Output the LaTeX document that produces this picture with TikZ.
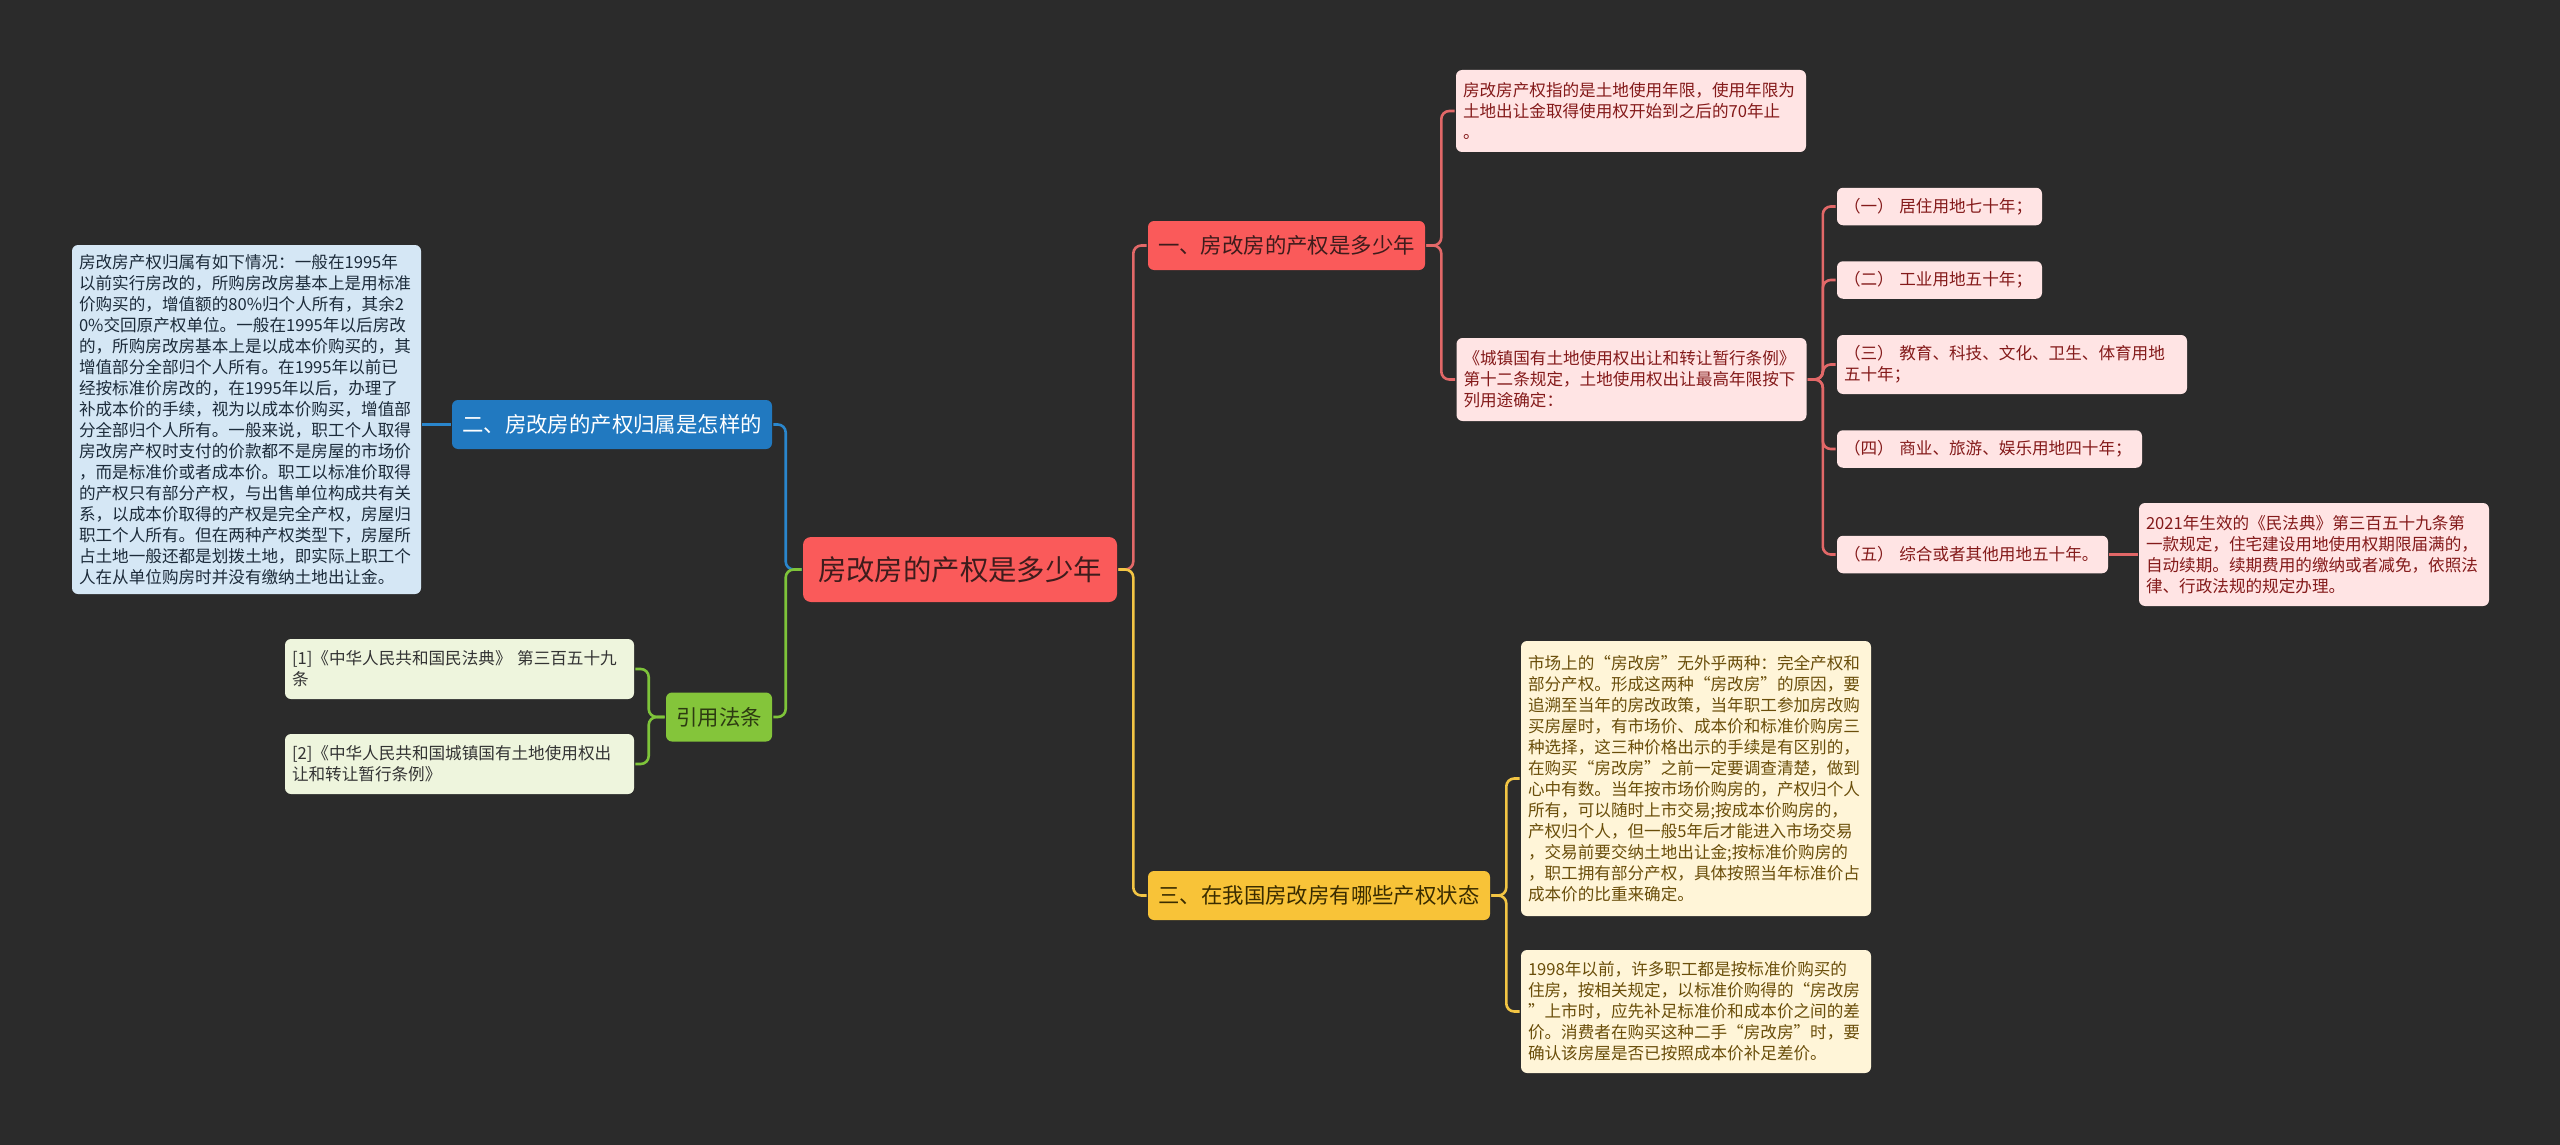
\documentclass[tikz,border=0pt]{standalone}
\usepackage{fontspec}
\newfontfamily\cjkfont{Noto Sans CJK SC}
\usepackage{tikz}
\usetikzlibrary{positioning, calc}
\definecolor{bgdark}{RGB}{43,43,43}
\definecolor{rootred}{RGB}{250,90,90}
\definecolor{rootink}{RGB}{62,28,28}
\definecolor{redline}{RGB}{226,104,104}
\definecolor{redpale}{RGB}{255,228,228}
\definecolor{redink}{RGB}{132,26,26}
\definecolor{bluebr}{RGB}{33,121,192}
\definecolor{blueline}{RGB}{42,134,204}
\definecolor{bluepale}{RGB}{213,231,245}
\definecolor{blueink}{RGB}{28,43,58}
\definecolor{greenbr}{RGB}{132,197,58}
\definecolor{greenline}{RGB}{126,196,58}
\definecolor{greenpale}{RGB}{238,245,221}
\definecolor{greenink}{RGB}{45,59,18}
\definecolor{yellowbr}{RGB}{248,195,56}
\definecolor{yellowline}{RGB}{242,197,68}
\definecolor{yellowpale}{RGB}{255,245,216}
\definecolor{yellowink}{RGB}{58,44,0}
\definecolor{yellowtext}{RGB}{106,78,10}

\begin{document}
\begin{tikzpicture}[x=0.5pt, y=-0.5pt, line width=1.3pt,
  root/.style={fill=rootred, text=rootink, rounded corners=4pt, minimum width=157pt, minimum height=32.5pt, font={\cjkfont\fontsize{14.2}{16}\selectfont}},
  branch/.style={rounded corners=3pt, minimum height=24.5pt, font={\cjkfont\fontsize{10.7}{12}\selectfont}},
  leaf/.style={rounded corners=3pt, inner xsep=3.5pt, align=left, font={\cjkfont\fontsize{8.3}{10.5}\selectfont}},
  redleaf/.style={leaf, fill=redpale, text=redink},
  blueleaf/.style={leaf, fill=bluepale, text=blueink},
  greenleaf/.style={leaf, fill=greenpale, text=black!80},
  yellowleaf/.style={leaf, fill=yellowpale, text=yellowtext},
  link/.style={rounded corners=4pt}]
  \fill[bgdark] (0,0) rectangle (2560,1145);
  \useasboundingbox (0,0) rectangle (2560,1145);

  \node[root] (root) at (960,569.5) {房改房的产权是多少年};
  \node[branch, fill=rootred, text=rootink, minimum width=138.5pt] (own) at (1286.5,245.5) {一、房改房的产权是多少年};
  \node[branch, fill=bluebr, text=white, minimum width=160pt] (belong) at (612,424.5) {二、房改房的产权归属是怎样的};
  \node[branch, fill=greenbr, text=greenink, minimum width=53pt] (cite) at (719,717) {引用法条};
  \node[branch, fill=yellowbr, text=yellowink, minimum width=171pt] (state) at (1319,895.5) {三、在我国房改房有哪些产权状态};

  \node[redleaf, text width=168pt, minimum height=41pt] (term) at (1631,111) {房改房产权指的是土地使用年限，使用年限为\\土地出让金取得使用权开始到之后的70年止\\。};
  \node[redleaf, text width=168pt, minimum height=41.5pt] (rule) at (1631.5,379.5) {《城镇国有土地使用权出让和转让暂行条例》\\第十二条规定，土地使用权出让最高年限按下\\列用途确定：};
  \node[redleaf, text width=95.5pt, minimum height=18.75pt] (use1) at (1939.5,206.5) {（一）~居住用地七十年；};
  \node[redleaf, text width=95.5pt, minimum height=18.75pt] (use2) at (1939.5,280) {（二）~工业用地五十年；};
  \node[redleaf, text width=168pt, minimum height=29.5pt] (use3) at (2012,364.5) {（三）~教育、科技、文化、卫生、体育用地\\五十年；};
  \node[redleaf, text width=145.5pt, minimum height=18.75pt] (use4) at (1989.5,449) {（四）~商业、旅游、娱乐用地四十年；};
  \node[redleaf, text width=128.5pt, minimum height=18.75pt] (use5) at (1972.5,554.5) {（五）~综合或者其他用地五十年。};
  \node[redleaf, text width=168pt, minimum height=51.5pt] (renew) at (2314,554.5) {2021年生效的《民法典》第三百五十九条第\\一款规定，住宅建设用地使用权期限届满的，\\自动续期。续期费用的缴纳或者减免，依照法\\律、行政法规的规定办理。};

  \node[blueleaf, text width=167.5pt, minimum height=174.5pt] (why) at (246.5,419.5) {房改房产权归属有如下情况：一般在1995年\\以前实行房改的，所购房改房基本上是用标准\\价购买的，增值额的80\%归个人所有，其余2\\0\%交回原产权单位。一般在1995年以后房改\\的，所购房改房基本上是以成本价购买的，其\\增值部分全部归个人所有。在1995年以前已\\经按标准价房改的，在1995年以后，办理了\\补成本价的手续，视为以成本价购买，增值部\\分全部归个人所有。一般来说，职工个人取得\\房改房产权时支付的价款都不是房屋的市场价\\，而是标准价或者成本价。职工以标准价取得\\的产权只有部分产权，与出售单位构成共有关\\系，以成本价取得的产权是完全产权，房屋归\\职工个人所有。但在两种产权类型下，房屋所\\占土地一般还都是划拨土地，即实际上职工个\\人在从单位购房时并没有缴纳土地出让金。};

  \node[greenleaf, text width=167.5pt, minimum height=30pt] (ref1) at (459.5,669) {[1]《中华人民共和国民法典》 第三百五十九\\条};
  \node[greenleaf, text width=167.5pt, minimum height=30pt] (ref2) at (459.5,764) {[2]《中华人民共和国城镇国有土地使用权出\\让和转让暂行条例》};

  \node[yellowleaf, text width=168pt, minimum height=137.5pt] (market) at (1696,778.5) {市场上的“房改房”无外乎两种：完全产权和\\部分产权。形成这两种“房改房”的原因，要\\追溯至当年的房改政策，当年职工参加房改购\\买房屋时，有市场价、成本价和标准价购房三\\种选择，这三种价格出示的手续是有区别的，\\在购买“房改房”之前一定要调查清楚，做到\\心中有数。当年按市场价购房的，产权归个人\\所有，可以随时上市交易;按成本价购房的，\\产权归个人，但一般5年后才能进入市场交易\\，交易前要交纳土地出让金;按标准价购房的\\，职工拥有部分产权，具体按照当年标准价占\\成本价的比重来确定。};
  \node[yellowleaf, text width=168pt, minimum height=61.5pt] (before) at (1696,1011.5) {1998年以前，许多职工都是按标准价购买的\\住房，按相关规定，以标准价购得的“房改房\\”上市时，应先补足标准价和成本价之间的差\\价。消费者在购买这种二手“房改房”时，要\\确认该房屋是否已按照成本价补足差价。};

  \draw[link, redline] (root.east) -- ++(15,0) |- (own.west);
  \draw[link, yellowline] (root.east) -- ++(15,0) |- (state.west);
  \draw[link, blueline] (root.west) -- ++(-16,0) |- (belong.east);
  \draw[link, greenline] (root.west) -- ++(-16,0) |- (cite.east);
  \draw[link, redline] (own.east) -- ++(15,0) |- (term.west);
  \draw[link, redline] (own.east) -- ++(15,0) |- (rule.west);
  \foreach \n in {use1,use2,use3,use4,use5}
    \draw[link, redline] (rule.east) -- ++(15,0) |- (\n.west);
  \draw[redline] (use5.east) -- (renew.west);
  \draw[blueline] (belong.west) -- (belong.west -| why.east);
  \foreach \n in {ref1,ref2}
    \draw[link, greenline] (cite.west) -- ++(-16,0) |- (\n.east);
  \foreach \n in {market,before}
    \draw[link, yellowline] (state.east) -- ++(15,0) |- (\n.west);
\end{tikzpicture}
\end{document}
